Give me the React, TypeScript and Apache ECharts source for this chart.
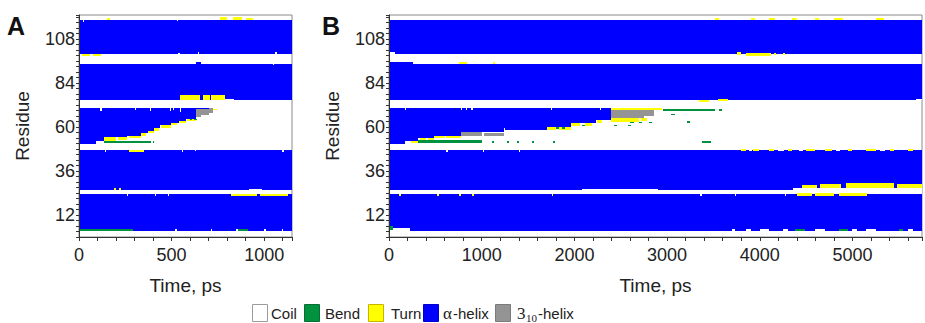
import React, { useEffect, useRef } from "react";
import * as echarts from "echarts";

// [timeStart, timeEnd, residueLow, residueHigh]
type Seg = [number, number, number, number];

const FONT = '"Liberation Sans", Arial, sans-serif';
const SERIF = '"Liberation Serif", "Times New Roman", serif';

const stateNames = ["Coil", "Bend", "Turn", "α-helix", "3₁₀-helix"];
const stateColors = ["#ffffff", "#00923f", "#ffff00", "#0000ff", "#949494"];

const timeMaxA = 1150;
const timeMaxB = 5750;
const residueMin = 0;
const residueMax = 121;
const residueLabels = [12, 36, 60, 84, 108];
const timeLabelStepA = 500;
const timeLabelStepB = 1000;

// ---------- Panel A ----------
const helixA: Seg[] = [
  [0, 1150, 99.5, 118.5],
  [0, 1150, 74.5, 94.5],
  [630, 660, 94.5, 95.3],
  [0, 90, 50.5, 70.5],
  [90, 135, 52.5, 70.5],
  [135, 260, 54.5, 70.5],
  [260, 333, 55.2, 70.5],
  [333, 370, 56.6, 70.5],
  [370, 403, 58, 70.5],
  [403, 440, 59.6, 70.5],
  [440, 495, 61, 70.5],
  [495, 540, 62.4, 70.5],
  [540, 580, 63.4, 70.5],
  [580, 630, 64.4, 70.5],
  [630, 700, 69.6, 70.5],
  [0, 1150, 25.5, 47.5],
  [0, 1150, 3.5, 23.5],
];
const coilA: Seg[] = [
  [115, 122, 68.7, 70.5], [302, 309, 69, 70.5], [383, 390, 68.5, 70.5],
  [490, 497, 68.8, 70.5], [508, 515, 69, 70.5], [545, 552, 68.3, 70.5],
  [535, 545, 99.5, 100.5], [640, 650, 99.5, 100.6], [1060, 1070, 99.5, 100.8],
  [20, 28, 117.3, 118.5], [528, 535, 117.6, 118.5],
  [1045, 1055, 93.8, 94.5], [790, 835, 74.5, 75.3],
  [140, 148, 46.6, 47.5], [555, 562, 46.6, 47.5], [625, 632, 46.8, 47.5], [1095, 1105, 46.5, 47.5],
  [920, 990, 25.5, 26.3],
  [260, 266, 22.5, 23.5], [410, 416, 22.6, 23.5], [480, 486, 22.6, 23.5],
  [520, 528, 3.5, 4.4], [710, 718, 3.5, 4.4], [850, 858, 3.5, 4.4], [1000, 1010, 3.5, 4.4], [1095, 1103, 3.5, 4.4],
];
const turnA: Seg[] = [
  [150, 165, 118.5, 119.6], [760, 800, 118.5, 119.8], [830, 880, 118.5, 119.8], [900, 940, 118.5, 119.6],
  [15, 60, 98.4, 99.5], [75, 120, 98.4, 99.5],
  [548, 655, 74.5, 77.5], [668, 705, 74.5, 77.5], [715, 790, 74.5, 77.5],
  [135, 200, 52.5, 54.5], [210, 260, 52.8, 54.5], [268, 333, 54, 55.2],
  [333, 362, 55.3, 56.6], [372, 403, 56.5, 58], [403, 432, 58, 59.6], [445, 495, 59.3, 61],
  [495, 530, 61, 62.4], [540, 580, 62, 63.4], [585, 630, 63.2, 64.4], [725, 745, 69, 70],
  [270, 350, 46.6, 47.5],
  [190, 200, 25.5, 26.6], [215, 225, 25.5, 26.6],
  [820, 960, 22.6, 23.5], [975, 1130, 22.6, 23.5],
];
const bendA: Seg[] = [
  [135, 390, 51.4, 52.5], [398, 406, 51.4, 52.5],
  [600, 612, 63.6, 64.4], [622, 635, 63.6, 64.4],
  [0, 290, 3.5, 4.2], [860, 915, 3.5, 4.2],
];
const h310A: Seg[] = [
  [630, 660, 65.5, 69.6], [660, 700, 66.5, 69.6], [700, 725, 67.8, 70.3],
];

// ---------- Panel B ----------
const helixB: Seg[] = [
  [0, 5750, 99.5, 118.5],
  [0, 5750, 74.5, 94.5],
  [0, 260, 94.5, 95.5],
  [0, 170, 50.5, 70.5],
  [170, 315, 52.2, 70.5],
  [315, 490, 54, 70.5],
  [490, 780, 55.3, 70.5],
  [780, 1245, 57.1, 70.5],
  [1245, 1705, 58.4, 70.5],
  [1705, 1960, 59.8, 70.5],
  [1960, 2230, 62, 70.5],
  [2230, 2395, 63.6, 70.5],
  [0, 5750, 25.5, 47.5],
  [0, 5750, 3.5, 23.5],
];
const coilB: Seg[] = [
  [0, 70, 99.5, 101], [0, 225, 3.5, 4.8],
  [170, 182, 69, 70.5], [780, 792, 69, 70.5], [830, 842, 69, 70.5], [890, 902, 69, 70.5],
  [1745, 1757, 69, 70.5], [2280, 2292, 69, 70.5], [1240, 1255, 57.1, 59.5],
  [620, 632, 46.6, 47.5], [1010, 1022, 46.6, 47.5], [1400, 1412, 46.6, 47.5],
  [2080, 2330, 25.5, 26.2], [2330, 2900, 25.5, 25.9],
  [4355, 5750, 23.5, 26.5],
  [3360, 3372, 22.4, 23.5], [3730, 3742, 22.4, 23.5], [4270, 4282, 22.4, 23.5],
  [3700, 3730, 3.5, 4.5], [3850, 3900, 3.5, 4.4], [4000, 4100, 3.5, 4.6], [4250, 4300, 3.5, 4.4],
  [4600, 4700, 3.5, 4.6], [5000, 5050, 3.5, 4.4], [5150, 5250, 3.5, 4.6], [5600, 5650, 3.5, 4.4],
  [3880, 3920, 46.7, 47.5], [4200, 4260, 46.7, 47.5], [4420, 4470, 46.7, 47.5],
  [4820, 4870, 46.7, 47.5], [5300, 5350, 46.7, 47.5],
  [5680, 5750, 74.5, 75.4],
];
const turnB: Seg[] = [
  [240, 315, 51.2, 52.2], [330, 400, 52.6, 54], [420, 490, 52.8, 54],
  [490, 600, 54, 55.3], [620, 780, 53.9, 55.3],
  [1705, 1800, 58.2, 59.8], [1830, 1960, 58.4, 59.8], [1960, 2060, 60.6, 62],
  [2110, 2190, 60.6, 62], [2240, 2300, 62.4, 63.6],
  [2395, 2940, 69, 70.5], [2395, 2700, 62.6, 65], [2720, 2780, 63.4, 65],
  [3750, 3800, 99.3, 100.8], [3850, 4120, 98.8, 100.5], [4150, 4180, 99, 100.3], [4250, 4270, 99, 100.3],
  [3520, 3560, 118.5, 119.5], [3900, 3950, 118.5, 119.5], [4100, 4160, 118.5, 119.5],
  [4350, 4400, 118.5, 119.5], [4600, 4640, 118.5, 119.5], [4800, 4900, 118.5, 119.5], [5250, 5340, 118.5, 119.5],
  [3340, 3450, 73.8, 74.8], [3550, 3660, 74, 75],
  [760, 840, 94.5, 95.5], [1120, 1140, 94.5, 95.5],
  [3800, 3850, 46.8, 47.9], [3930, 3990, 46.8, 47.9], [4100, 4150, 46.8, 47.9], [4300, 4350, 46.8, 47.9],
  [4500, 4600, 46.8, 47.9], [4700, 4780, 46.8, 47.9], [4950, 5000, 46.8, 47.9], [5150, 5250, 46.8, 47.9],
  [5400, 5450, 46.8, 47.9], [5600, 5650, 46.8, 47.9],
  [4460, 4620, 26.5, 28.5], [4650, 4880, 26.5, 28.8], [4930, 5450, 26.5, 29.3], [5480, 5750, 26.5, 29],
  [4400, 4560, 22.6, 23.8], [4600, 4800, 22.6, 23.8], [4850, 5160, 22.6, 23.8],
  [110, 125, 22.3, 23.5], [520, 535, 22.3, 23.5], [755, 780, 22.3, 23.5], [895, 920, 22.3, 23.5], [1755, 1770, 22.3, 23.5],
];
const bendB: Seg[] = [
  [315, 1000, 51.5, 52.6],
  [1110, 1135, 51.5, 52.4], [1270, 1295, 51.5, 52.4], [1380, 1405, 51.5, 52.4],
  [1540, 1565, 51.5, 52.4], [1770, 1795, 51.5, 52.4],
  [1800, 1830, 59, 59.7], [1870, 1900, 59, 59.7], [2080, 2110, 60.5, 61.2],
  [2430, 2460, 60.6, 61.3], [2580, 2610, 60.6, 61.3],
  [2600, 2640, 62, 62.8], [2700, 2730, 62, 62.8], [2800, 2840, 62, 62.8],
  [2960, 3520, 68.7, 69.5], [3560, 3590, 68.7, 69.5], [3040, 3080, 66.6, 67.3],
  [3220, 3245, 62.3, 63], [3380, 3470, 51.4, 52.2],
  [0, 40, 4, 6], [4380, 4490, 3.5, 4.2], [4850, 4950, 3.5, 4.2], [5500, 5550, 3.5, 4.2],
];
const h310B: Seg[] = [
  [780, 1000, 54.8, 57.1], [1030, 1245, 55, 56.9],
  [2395, 2750, 65, 69], [2750, 2855, 66, 69],
];

const panels = [
  { label: "A", tMax: timeMaxA, step: timeLabelStepA, tick: 100, helix: helixA, coil: coilA, turn: turnA, bend: bendA, h310: h310A },
  { label: "B", tMax: timeMaxB, step: timeLabelStepB, tick: 200, helix: helixB, coil: coilB, turn: turnB, bend: bendB, h310: h310B },
];

const gridBoxes = [
  { left: 79, top: 15, width: 213, height: 222 },
  { left: 389, top: 15, width: 534, height: 222 },
];

const makeRender = (color: string) => (params: any, api: any) => {
  const a = api.coord([api.value(0), api.value(3)]);
  const b = api.coord([api.value(1), api.value(2)]);
  const cs = params.coordSys;
  const x0 = Math.round(Math.max(a[0], cs.x));
  let x1 = Math.round(Math.min(b[0], cs.x + cs.width));
  const y0 = Math.round(Math.max(a[1], cs.y));
  let y1 = Math.round(Math.min(b[1], cs.y + cs.height));
  if (x1 - x0 < 1) x1 = x0 + 1;
  if (y1 - y0 < 1) y1 = y0 + 1;
  return {
    type: "rect",
    shape: { x: x0, y: y0, width: x1 - x0, height: y1 - y0 },
    style: { fill: color },
    silent: true,
  };
};

export default function App() {
  const ref = useRef<HTMLDivElement>(null);

  useEffect(() => {
    if (!ref.current) return;
    const chart = echarts.init(ref.current, null, { renderer: "svg" });

    const axisColor = "#333";
    const grids = gridBoxes.map((g) => ({
      ...g,
      show: true,
      borderColor: "#8a8a8a",
      borderWidth: 1,
      backgroundColor: "#ffffff",
      containLabel: false,
    }));

    const xAxes = panels.map((p, i) => ({
      type: "value",
      gridIndex: i,
      min: 0,
      max: p.tMax,
      interval: p.tick,
      z: 5,
      name: "Time, ps",
      nameLocation: "middle",
      nameGap: 48,
      nameTextStyle: { fontSize: 19, color: "#222", fontFamily: FONT, verticalAlign: "middle" },
      axisLine: { show: true, lineStyle: { color: axisColor, width: 1 } },
      axisTick: { show: true, inside: false, length: 4, lineStyle: { color: axisColor } },
      splitLine: { show: false },
      axisLabel: {
        fontSize: 18,
        color: "#222",
        fontFamily: FONT,
        margin: 9,
        showMaxLabel: true,
        formatter: (v: number) => (v % p.step === 0 ? String(v) : ""),
      },
    }));

    const yAxes = panels.map((p, i) => ({
      type: "value",
      gridIndex: i,
      min: residueMin,
      max: residueMax,
      interval: 3,
      z: 5,
      name: "Residue",
      nameLocation: "middle",
      nameGap: 57,
      nameRotate: 90,
      nameTextStyle: { fontSize: 19, color: "#222", fontFamily: FONT, verticalAlign: "middle" },
      axisLine: { show: true, lineStyle: { color: axisColor, width: 1 } },
      axisTick: { show: true, inside: false, length: 3, lineStyle: { color: axisColor } },
      splitLine: { show: false },
      axisLabel: {
        fontSize: 18,
        color: "#222",
        fontFamily: FONT,
        margin: 4,
        formatter: (v: number) => (residueLabels.includes(v) ? String(v) : ""),
      },
    }));

    const series: any[] = [];
    panels.forEach((p, i) => {
      const layers: [string, Seg[], string][] = [
        [stateNames[3], p.helix, stateColors[3]],
        [stateNames[0], p.coil, stateColors[0]],
        [stateNames[2], p.turn, stateColors[2]],
        [stateNames[4], p.h310, stateColors[4]],
        [stateNames[1], p.bend, stateColors[1]],
      ];
      layers.forEach(([name, data, color]) => {
        series.push({
          type: "custom",
          name,
          xAxisIndex: i,
          yAxisIndex: i,
          data,
          encode: { x: [0, 1], y: [2, 3] },
          renderItem: makeRender(color),
          clip: true,
          silent: true,
        });
      });
    });

    // legend built from the state list
    const legendBoxes = [252, 304, 368, 423, 495];
    const legendStroke = ["#9a9a9a", "#0a6e33", "#c9b400", "#0000cc", "#7a7a7a"];
    const legendY = 304;
    const graphics: any[] = [];
    legendBoxes.forEach((x, k) => {
      graphics.push({
        type: "rect",
        shape: { x: x + 0.5, y: legendY + 0.5, width: 15, height: 17 },
        style: { fill: stateColors[k], stroke: legendStroke[k], lineWidth: 1 },
      });
    });
    const tStyle = (text: string, x: number, extra: any = {}) => ({
      type: "text",
      x,
      y: 313,
      style: { text, fontSize: 15, fontFamily: FONT, fill: "#222", verticalAlign: "middle", align: "left", ...extra },
    });
    graphics.push(tStyle(stateNames[0], 271));
    graphics.push(tStyle(stateNames[1], 325));
    graphics.push(tStyle(stateNames[2], 391));
    graphics.push(tStyle("α", 443, { fontFamily: SERIF, fontSize: 17 }));
    graphics.push(tStyle("-helix", 453));
    graphics.push(tStyle("3", 517, { fontFamily: SERIF, fontSize: 17 }));
    graphics.push({
      type: "text",
      x: 526,
      y: 318,
      style: { text: "10", fontSize: 11, fontFamily: SERIF, fill: "#222", verticalAlign: "middle", align: "left" },
    });
    graphics.push(tStyle("-helix", 538));
    // panel letters
    graphics.push({
      type: "text", x: 7, y: 26,
      style: { text: panels[0].label, fontSize: 25, fontWeight: "bold", fontFamily: FONT, fill: "#111", verticalAlign: "middle" },
    });
    graphics.push({
      type: "text", x: 322, y: 26,
      style: { text: panels[1].label, fontSize: 25, fontWeight: "bold", fontFamily: FONT, fill: "#111", verticalAlign: "middle" },
    });

    chart.setOption({
      animation: false,
      backgroundColor: "#ffffff",
      textStyle: { fontFamily: FONT },
      grid: grids,
      xAxis: xAxes,
      yAxis: yAxes,
      series,
      graphic: graphics,
    });

    return () => chart.dispose();
  }, []);

  return (
    <div
      ref={ref}
      style={{ position: "fixed", left: 0, top: 0, width: 925, height: 323, background: "#fff" }}
    />
  );
}
